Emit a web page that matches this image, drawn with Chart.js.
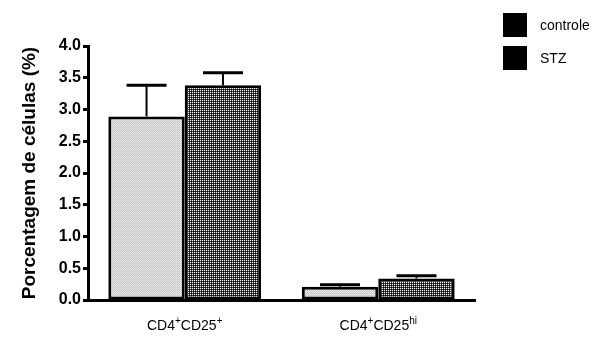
<!DOCTYPE html>
<html><head><meta charset="utf-8">
<script src="https://cdn.jsdelivr.net/npm/chart.js@4/dist/chart.umd.min.js"></script>
<style>html,body{margin:0;padding:0;background:#fff}#wrap{width:603px;height:338px}</style>
</head><body><div id="wrap"><canvas id="c" width="603" height="338"></canvas></div>
<script>
const categories = ["CD4+CD25+", "CD4+CD25hi"];
const categoryParts = [["CD4", "+", "CD25", "+"], ["CD4", "+", "CD25", "hi"]];
const seriesNames = ["controle", "STZ"];
const controleValues = [2.89, 0.21];
const stzValues = [3.38, 0.34];
const controleErr = [0.49, 0.03];
const stzErr = [0.2, 0.04];
const yTicks = [0.0, 0.5, 1.0, 1.5, 2.0, 2.5, 3.0, 3.5, 4.0];

const FONT = 'Arial, "Liberation Sans", sans-serif';

function makePattern(cols) {
  const p = document.createElement('canvas');
  p.width = 2; p.height = 2;
  const g = p.getContext('2d');
  [[0,0],[1,0],[0,1],[1,1]].forEach((xy,i)=>{ g.fillStyle = cols[i]; g.fillRect(xy[0],xy[1],1,1); });
  return document.getElementById('c').getContext('2d').createPattern(p, 'repeat');
}
const lightPat = makePattern(['#f2f2f2','#c4c4c4','#c4c4c4','#e2e2e2']);
const darkPat = makePattern(['#ffffff','#3a3a3a','#3a3a3a','#000000']);

const errBars = {
  id: 'errBars',
  afterDatasetsDraw(chart) {
    const ctx = chart.ctx, y = chart.scales.y;
    const errs = [controleErr, stzErr];
    chart.data.datasets.forEach((ds, di) => {
      const meta = chart.getDatasetMeta(di);
      meta.data.forEach((bar, i) => {
        const top = y.getPixelForValue(ds.data[i] + errs[di][i]);
        const base = y.getPixelForValue(ds.data[i]);
        ctx.save();
        ctx.strokeStyle = '#000';
        ctx.lineWidth = 2;
        ctx.beginPath(); ctx.moveTo(bar.x, base); ctx.lineTo(bar.x, top); ctx.stroke();
        ctx.lineWidth = 3;
        ctx.beginPath(); ctx.moveTo(bar.x - 20, top); ctx.lineTo(bar.x + 20, top); ctx.stroke();
        ctx.restore();
      });
    });
  }
};

const xLabels = {
  id: 'xLabels',
  afterDraw(chart) {
    const ctx = chart.ctx, x = chart.scales.x;
    const baseY = chart.chartArea.bottom + 30;
    categoryParts.forEach((parts, i) => {
      const cx = x.getPixelForTick(i);
      ctx.save();
      ctx.fillStyle = '#000';
      ctx.textBaseline = 'alphabetic';
      ctx.textAlign = 'left';
      const main = '14px ' + FONT, sup = '10px ' + FONT;
      let w = 0;
      parts.forEach((t, k) => { ctx.font = k % 2 ? sup : main; w += ctx.measureText(t).width; });
      let px = cx - w / 2;
      parts.forEach((t, k) => {
        ctx.font = k % 2 ? sup : main;
        ctx.fillText(t, px, k % 2 ? baseY - 6 : baseY);
        px += ctx.measureText(t).width;
      });
      ctx.restore();
    });
  }
};

const legendPlugin = {
  id: 'legendPlugin',
  afterDraw(chart) {
    const ctx = chart.ctx;
    seriesNames.forEach((name, i) => {
      const top = 13 + i * 33;
      ctx.save();
      ctx.fillStyle = '#000';
      ctx.fillRect(503, top, 24, 24);
      ctx.font = '14px ' + FONT;
      ctx.textBaseline = 'middle';
      ctx.textAlign = 'left';
      ctx.fillText(name, 540, top + 13);
      ctx.restore();
    });
  }
};

new Chart(document.getElementById('c'), {
  type: 'bar',
  data: {
    labels: categories,
    datasets: [
      { label: seriesNames[0], data: controleValues, backgroundColor: lightPat, borderColor: '#000', borderWidth: 3, borderSkipped: false },
      { label: seriesNames[1], data: stzValues, backgroundColor: darkPat, borderColor: '#000', borderWidth: 3, borderSkipped: false }
    ]
  },
  options: {
    responsive: false,
    animation: false,
    devicePixelRatio: 1,
    layout: { padding: { top: 46, right: 128, bottom: 0, left: 0 } },
    plugins: {
      tooltip: { enabled: false },
      legend: { display: false }
    },
    datasets: { bar: { categoryPercentage: 0.79, barPercentage: 1.0 } },
    scales: {
      x: {
        afterFit(s) { s.height = 38; },
        grid: { display: false, drawTicks: false },
        border: { color: '#000', width: 3 },
        ticks: { display: false }
      },
      y: {
        min: 0, max: 4,
        afterFit(s) { s.width = 88; },
        afterBuildTicks(s) { s.ticks = yTicks.map(v => ({ value: v })); },
        grid: { display: true, drawOnChartArea: false, drawTicks: true, tickLength: 5, tickWidth: 3, tickColor: '#000' },
        border: { color: '#000', width: 3 },
        title: { display: true, text: 'Porcentagem de células (%)', color: '#000', padding: { top: 18, bottom: 0 }, font: { family: FONT, size: 19, weight: 'bold' } },
        ticks: { color: '#000', padding: 2, font: { family: FONT, size: 16, weight: 'bold' }, callback: v => Number(v).toFixed(1) }
      }
    }
  },
  plugins: [errBars, xLabels, legendPlugin]
});
</script></body></html>
